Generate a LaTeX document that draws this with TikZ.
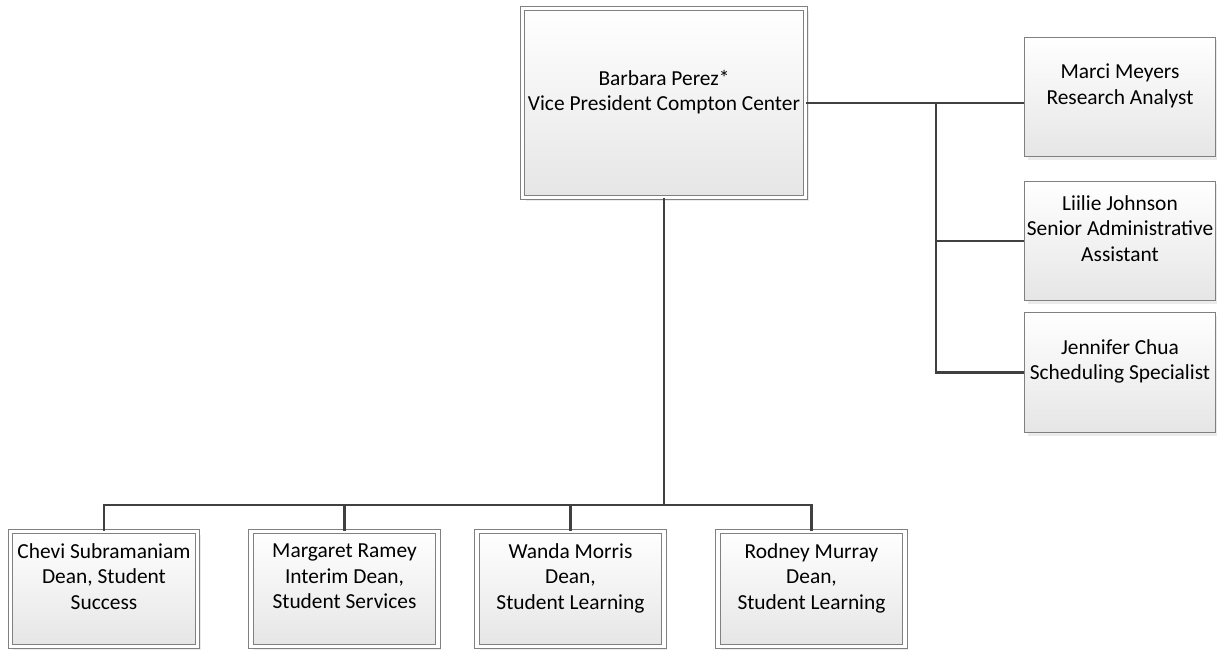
\documentclass[tikz,border=0pt]{standalone}
\usepackage{fontspec}
\setmainfont{Carlito}
\usetikzlibrary{shadows}
\tikzset{
	person/.style={draw=black!50, line width=0.8bp, top color=white, bottom color=black!10,
		drop shadow={shadow xshift=3bp, shadow yshift=-3bp, fill=black!8, opacity=1},
		align=center, inner sep=0pt, font=\fontsize{21.4bp}{25.5bp}\selectfont},
	chief/.style={person, double=white, double distance=3.5bp},
	link/.style={line width=2.8bp, color=black!75}
}

\begin{document}
\begin{tikzpicture}[x=1bp, y=-1bp]
		%%%%% START %%%%%
		
		\useasboundingbox (0, 0) rectangle (1217, 650);
		
		\node[chief, minimum width=283bp, minimum height=189bp] (vp) at (664, 103) {Barbara Perez*\\Vice President Compton Center\\\mbox{}};
		
		\node[person, minimum width=191bp, minimum height=119bp] (marci) at (1120, 97) {Marci Meyers\\Research Analyst\\\mbox{}};
		\node[person, minimum width=191bp, minimum height=119bp] (liilie) at (1120, 241) {Liilie Johnson\\Senior Administrative\\Assistant\\\mbox{}};
		\node[person, minimum width=191bp, minimum height=120bp] (jennifer) at (1120, 372.5) {Jennifer Chua\\Scheduling Specialist\\\mbox{}};
		
		\node[chief, minimum width=187bp, minimum height=115bp] (chevi) at (104, 589) {Chevi Subramaniam\\Dean, Student\\Success\\\mbox{}};
		\node[chief, minimum width=187bp, minimum height=115bp] (margaret) at (344.5, 589) {Margaret Ramey\\Interim Dean,\\Student Services\\\mbox{}};
		\node[chief, minimum width=187bp, minimum height=115bp] (wanda) at (570.5, 589) {Wanda Morris\\Dean,\\Student Learning\\\mbox{}};
		\node[chief, minimum width=187bp, minimum height=115bp] (rodney) at (811.5, 589) {Rodney Murray\\Dean,\\Student Learning\\\mbox{}};
		
		\coordinate (staff) at (936, 103);
		\coordinate (deans) at (664, 505);
		
		\draw[link] (vp.east) -- (vp.east -| marci.west);
		\draw[link] (staff) |- (liilie.west);
		\draw[link] (staff) |- (jennifer.west);
		
		\draw[link] (vp.south) -- (deans);
		\draw[link] (deans) -| (chevi.north);
		\draw[link] (deans) -| (margaret.north);
		\draw[link] (deans) -| (wanda.north);
		\draw[link] (deans) -| (rodney.north);
		
		%%%%% END %%%%%
	\end{tikzpicture}
\end{document}
